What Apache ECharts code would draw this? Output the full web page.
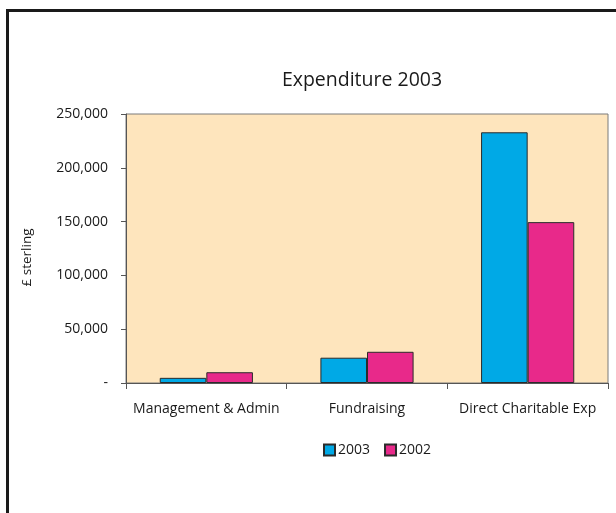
<!DOCTYPE html>
<html>
<head>
<meta charset="utf-8">
<script src="https://cdn.jsdelivr.net/npm/echarts@6/dist/echarts.min.js"></script>
<style>
  html, body { margin: 0; padding: 0; background: #fff; }
  #frame { position: absolute; left: 6px; top: 9px; width: 700px; height: 600px; border: 3px solid #1a1a1a; box-sizing: border-box; }
  #main { position: absolute; left: 0; top: 0; width: 616px; height: 513px; }
</style>
</head>
<body>
<div id="frame"></div>
<div id="main"></div>
<script>
const categories = ['Management & Admin', 'Fundraising', 'Direct Charitable Exp'];
const values2003 = [4800, 23500, 233000];
const values2002 = [10000, 29000, 149500];
const yTicks = [0, 50000, 100000, 150000, 200000, 250000];

const fontFam = '"Open Sans", "Noto Sans", sans-serif';

const chart = echarts.init(document.getElementById('main'));
chart.setOption({
    animation: false,
    title: {
        text: 'Expenditure 2003',
        left: 357,
        top: 65,
        textAlign: 'center',
        textStyle: { fontFamily: fontFam, fontSize: 19.5, fontWeight: 'normal', color: '#1a1a1a' }
    },
    legend: {
        left: 318,
        top: 438,
        itemWidth: 11,
        itemHeight: 11,
        itemGap: 14,
        icon: 'rect',
        textStyle: { fontFamily: fontFam, fontSize: 14, color: '#1a1a1a', padding: [0, 0, 0, -2] },
        data: ['2003', '2002']
    },
    grid: {
        left: 126,
        top: 114,
        right: 8,
        bottom: 130,
        show: true,
        backgroundColor: '#FEE5BD',
        borderColor: '#7a7a7a',
        borderWidth: 1
    },
    xAxis: {
        type: 'category',
        data: categories,
        axisLine: { lineStyle: { color: '#555', width: 1 } },
        axisTick: { show: true, length: 6, lineStyle: { color: '#555' } },
        axisLabel: { interval: 0, margin: 19, fontFamily: fontFam, fontSize: 14, color: '#1a1a1a' }
    },
    yAxis: {
        type: 'value',
        name: '£ sterling',
        nameLocation: 'middle',
        nameGap: 92,
        nameTextStyle: { fontFamily: fontFam, fontSize: 13.5, color: '#1a1a1a', padding: [0, 18, 0, 0] },
        min: yTicks[0],
        max: yTicks[yTicks.length - 1],
        interval: 50000,
        splitLine: { show: false },
        axisLine: { show: true, lineStyle: { color: '#555', width: 1 } },
        axisTick: { show: true, length: 5, lineStyle: { color: '#555' } },
        axisLabel: {
            margin: 18,
            fontFamily: fontFam,
            fontSize: 14,
            color: '#1a1a1a',
            formatter: v => v === 0 ? '-' : v.toLocaleString('en-GB')
        }
    },
    series: [
        {
            name: '2003',
            type: 'bar',
            data: values2003,
            barGap: '0%',
            barCategoryGap: '42%',
            itemStyle: { color: '#00A9E6', borderColor: '#2b2b2b', borderWidth: 1 }
        },
        {
            name: '2002',
            type: 'bar',
            data: values2002,
            itemStyle: { color: '#E8298A', borderColor: '#2b2b2b', borderWidth: 1 }
        }
    ]
});
</script>
</body>
</html>
